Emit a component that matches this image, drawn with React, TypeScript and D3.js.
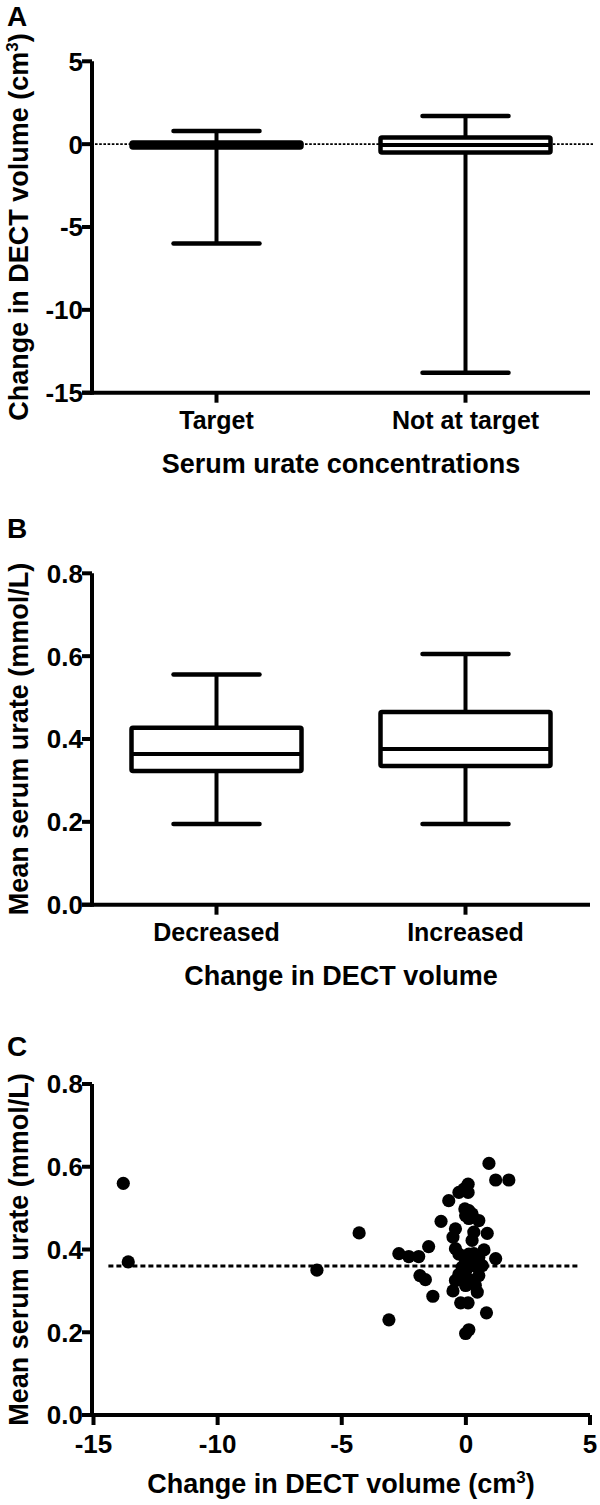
import React from "react";
import * as d3 from "d3";

// ---------- Panel A data ----------
const aCategories = ["Target", "Not at target"];
const aWhiskerLow = [-6.0, -13.8];
const aQ1 = [-0.2, -0.5];
const aMedian = [-0.05, -0.05];
const aQ3 = [0.1, 0.4];
const aWhiskerHigh = [0.8, 1.7];
const aYTicks = [5, 0, -5, -10, -15];

// ---------- Panel B data ----------
const bCategories = ["Decreased", "Increased"];
const bWhiskerLow = [0.195, 0.195];
const bQ1 = [0.323, 0.335];
const bMedian = [0.364, 0.376];
const bQ3 = [0.427, 0.465];
const bWhiskerHigh = [0.556, 0.605];
const bYTicks = [0.8, 0.6, 0.4, 0.2, 0.0];

// ---------- Panel C data ----------
const cX = [
  -13.8, -13.6, -6.0, -4.3, -3.1, -2.7, -2.3, -1.9, -1.85, -1.63, -1.5, -1.33,
  -1.0, -0.69, -0.52, -0.52, -0.42, -0.42, -0.42, -0.28, -0.28, -0.28, -0.21,
  -0.15, -0.08, -0.04, -0.01, -0.01, -0.01, -0.01, 0.09, 0.09, 0.09, 0.12,
  0.12, 0.12, 0.12, 0.25, 0.25, 0.25, 0.32, 0.32, 0.32, 0.38, 0.46, 0.52,
  0.52, 0.52, 0.66, 0.73, 0.83, 0.86, 0.93, 1.2, 1.2, 1.73, 0.0, -0.08, 0.05,
];
const cY = [
  0.56, 0.37, 0.35, 0.44, 0.23, 0.39, 0.383, 0.383, 0.337, 0.327, 0.407, 0.287,
  0.468, 0.518, 0.43, 0.3, 0.45, 0.402, 0.325, 0.538, 0.34, 0.389, 0.271,
  0.357, 0.546, 0.498, 0.482, 0.373, 0.313, 0.197, 0.558, 0.538, 0.271, 0.494,
  0.475, 0.389, 0.206, 0.486, 0.422, 0.325, 0.442, 0.39, 0.361, 0.313, 0.297,
  0.47, 0.381, 0.337, 0.361, 0.399, 0.247, 0.439, 0.608, 0.568, 0.378, 0.568,
  0.35, 0.36, 0.33,
];
const cXTicks = [-15, -10, -5, 0, 5];
const cYTicks = [0.8, 0.6, 0.4, 0.2, 0.0];
const cRefLine = 0.36;
const cRefLineExtent = [-14.4, 4.5];

const FONT = "'Liberation Sans', Arial, Helvetica, sans-serif";
const AXIS_X = 92;
const AXIS_END = 590;
const LW = 4;
const TITLE_SIZE = 27;

function YAxis({ scale, ticks, fmt }) {
  const [r0, r1] = scale.range();
  return (
    <g>
      <line x1={AXIS_X} x2={AXIS_X} y1={Math.min(r0, r1)} y2={Math.max(r0, r1) + LW / 2} stroke="#000" strokeWidth={LW} />
      {ticks.map((t) => (
        <g key={t}>
          <line x1={AXIS_X - 10} x2={AXIS_X} y1={scale(t)} y2={scale(t)} stroke="#000" strokeWidth={LW} />
          <text x={AXIS_X - 9} y={scale(t)} dy="0.36em" textAnchor="end" fontFamily={FONT} fontWeight="bold" fontSize={26}>
            {fmt(t)}
          </text>
        </g>
      ))}
    </g>
  );
}

function YTitle({ cy, children }) {
  return (
    <text transform={`translate(28,${cy}) rotate(-90)`} textAnchor="middle" fontFamily={FONT} fontWeight="bold" fontSize={TITLE_SIZE}>
      {children}
    </text>
  );
}

function BoxPanel({ top, bottom, domain, cats, low, q1, med, q3, high, yTicks, fmt, xTitle, yTitle, letter, zeroLine }) {
  const y = d3.scaleLinear().domain(domain).range([bottom, top]);
  const x = d3.scalePoint().domain(cats).range([AXIS_X, AXIS_END]).padding(0.5);
  const boxW = 170;
  const capW = 86;
  return (
    <g>
      <text x={7} y={top - 35} fontFamily={FONT} fontWeight="bold" fontSize={28}>{letter}</text>
      {zeroLine && (
        <line x1={AXIS_X + 3} x2={AXIS_END + 3} y1={y(0)} y2={y(0)} stroke="#000" strokeWidth={1.6} strokeDasharray="2.6,1.6" />
      )}
      {cats.map((c, i) => {
        const cx = x(c);
        return (
          <g key={c}>
            <line x1={cx} x2={cx} y1={y(high[i])} y2={y(q3[i])} stroke="#000" strokeWidth={LW} />
            <line x1={cx} x2={cx} y1={y(q1[i])} y2={y(low[i])} stroke="#000" strokeWidth={LW} />
            <line x1={cx - capW / 2} x2={cx + capW / 2} y1={y(high[i])} y2={y(high[i])} stroke="#000" strokeWidth={LW + 0.5} strokeLinecap="round" />
            <line x1={cx - capW / 2} x2={cx + capW / 2} y1={y(low[i])} y2={y(low[i])} stroke="#000" strokeWidth={LW + 0.5} strokeLinecap="round" />
            <rect x={cx - boxW / 2} y={y(q3[i])} width={boxW} height={y(q1[i]) - y(q3[i])} fill="#fff" stroke="#000" strokeWidth={LW + 0.5} rx={1.5} />
            <line x1={cx - boxW / 2} x2={cx + boxW / 2} y1={y(med[i])} y2={y(med[i])} stroke="#000" strokeWidth={LW} />
            <line x1={cx} x2={cx} y1={bottom} y2={bottom + 10} stroke="#000" strokeWidth={LW} />
            <text x={cx} y={bottom + 36} textAnchor="middle" fontFamily={FONT} fontWeight="bold" fontSize={25}>{c}</text>
          </g>
        );
      })}
      <YAxis scale={y} ticks={yTicks} fmt={fmt} />
      <line x1={AXIS_X - 10} x2={AXIS_END} y1={bottom} y2={bottom} stroke="#000" strokeWidth={LW} />
      <text x={(AXIS_X + AXIS_END) / 2} y={bottom + 80} textAnchor="middle" fontFamily={FONT} fontWeight="bold" fontSize={TITLE_SIZE}>{xTitle}</text>
      <YTitle cy={(top + bottom) / 2}>{yTitle}</YTitle>
    </g>
  );
}

function ScatterPanel() {
  const top = 1084;
  const bottom = 1415;
  const x = d3.scaleLinear().domain([-15, 5]).range([AXIS_X + 1.5, AXIS_END]);
  const y = d3.scaleLinear().domain([0, 0.8]).range([bottom, top]);
  return (
    <g>
      <text x={7} y={1056} fontFamily={FONT} fontWeight="bold" fontSize={28}>C</text>
      {cX.map((v, i) => (
        <circle key={i} cx={x(v)} cy={y(cY[i])} r={6.6} fill="#000" />
      ))}
      <line x1={x(cRefLineExtent[0])} x2={x(cRefLineExtent[1])} y1={y(cRefLine)} y2={y(cRefLine)} stroke="#000" strokeWidth={3} strokeDasharray="5,3" />
      <YAxis scale={y} ticks={cYTicks} fmt={(t) => d3.format(".1f")(t)} />
      <line x1={AXIS_X - 10} x2={AXIS_END} y1={bottom} y2={bottom} stroke="#000" strokeWidth={LW} />
      {cXTicks.map((t) => (
        <g key={t}>
          <line x1={x(t)} x2={x(t)} y1={bottom} y2={bottom + 10} stroke="#000" strokeWidth={LW} />
          <text x={x(t)} y={bottom + 38} textAnchor="middle" fontFamily={FONT} fontWeight="bold" fontSize={26}>{t}</text>
        </g>
      ))}
      <text x={(AXIS_X + AXIS_END) / 2} y={bottom + 78} textAnchor="middle" fontFamily={FONT} fontWeight="bold" fontSize={TITLE_SIZE}>
        Change in DECT volume (cm<tspan fontSize={17} dy={-10}>3</tspan><tspan dy={10}>)</tspan>
      </text>
      <YTitle cy={(top + bottom) / 2}>Mean serum urate (mmol/L)</YTitle>
    </g>
  );
}

export default function App() {
  return (
    <svg width={600} height={1505} style={{ position: "absolute", left: 0, top: 0, background: "#fff" }}>
      <BoxPanel
        top={61.3}
        bottom={392.7}
        domain={[-15, 5]}
        cats={aCategories}
        low={aWhiskerLow}
        q1={aQ1}
        med={aMedian}
        q3={aQ3}
        high={aWhiskerHigh}
        yTicks={aYTicks}
        fmt={(t) => String(t)}
        xTitle="Serum urate concentrations"
        yTitle={<>Change in DECT volume (cm<tspan fontSize={17} dy={-10}>3</tspan><tspan dy={10}>)</tspan></>}
        letter="A"
        zeroLine={true}
      />
      <BoxPanel
        top={573.3}
        bottom={904.7}
        domain={[0, 0.8]}
        cats={bCategories}
        low={bWhiskerLow}
        q1={bQ1}
        med={bMedian}
        q3={bQ3}
        high={bWhiskerHigh}
        yTicks={bYTicks}
        fmt={(t) => d3.format(".1f")(t)}
        xTitle="Change in DECT volume"
        yTitle="Mean serum urate (mmol/L)"
        letter="B"
        zeroLine={false}
      />
      <ScatterPanel />
    </svg>
  );
}
